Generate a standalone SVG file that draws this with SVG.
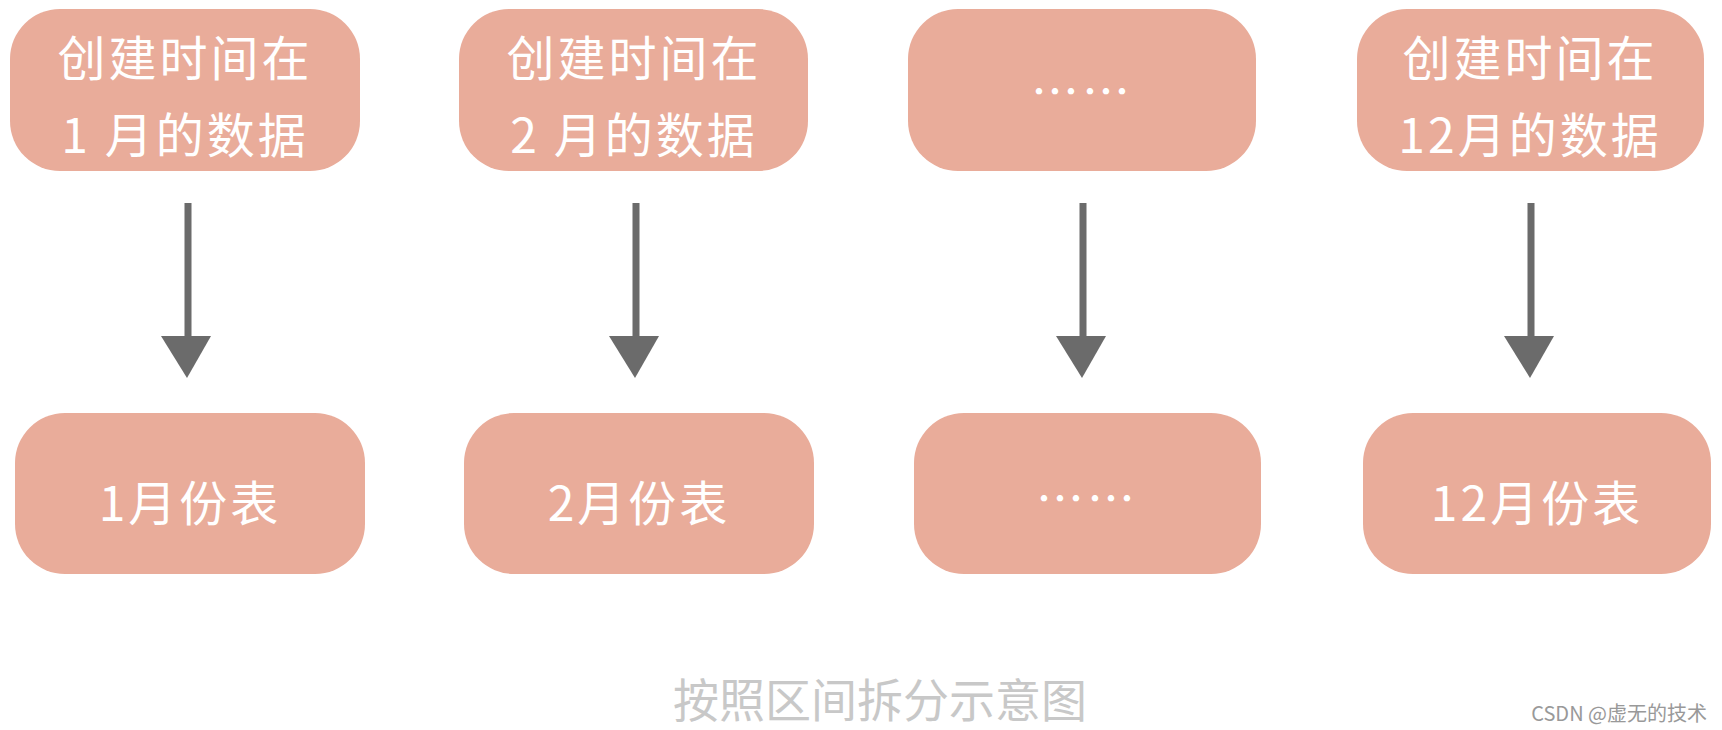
<svg xmlns="http://www.w3.org/2000/svg" width="1722" height="730" viewBox="0 0 1722 730">
<style>
.b{fill:#e9ac9a}
.t{font-family:"Noto Sans CJK SC",sans-serif;font-size:48px;fill:#fff;text-anchor:middle;dominant-baseline:central;letter-spacing:3px}
.l{stroke:#6b6b6b;stroke-width:7;fill:none}
.h{fill:#6b6b6b}
</style>
<rect width="1722" height="730" fill="#fff"/>
<g id="top1"><rect class="b" x="10" y="9" width="350" height="162" rx="50"/><text class="t" x="185" y="55">创建时间在</text><text class="t" x="185" y="132">1 月的数据</text></g>
<g id="top2"><rect class="b" x="459" y="9" width="349" height="162" rx="50"/><text class="t" x="634" y="55">创建时间在</text><text class="t" x="634" y="132">2 月的数据</text></g>
<g id="top3"><rect class="b" x="908" y="9" width="348" height="162" rx="50"/><text class="t" x="1082" y="88">……</text></g>
<g id="top4"><rect class="b" x="1357" y="9" width="347" height="162" rx="50"/><text class="t" x="1530" y="55">创建时间在</text><text class="t" x="1530" y="132">12月的数据</text></g>
<g id="bot1"><rect class="b" x="15" y="413" width="350" height="161" rx="50"/><text class="t" x="190" y="500">1月份表</text></g>
<g id="bot2"><rect class="b" x="464" y="413" width="350" height="161" rx="50"/><text class="t" x="639" y="500">2月份表</text></g>
<g id="bot3"><rect class="b" x="914" y="413" width="347" height="161" rx="50"/><text class="t" x="1087" y="495">……</text></g>
<g id="bot4"><rect class="b" x="1363" y="413" width="348" height="161" rx="50"/><text class="t" x="1537" y="500">12月份表</text></g>
<g id="connectors">
<path class="l" d="M188 203V338"/><path class="h" d="M161 336H211L187 378Z"/>
<path class="l" d="M636 203V338"/><path class="h" d="M609 336H659L635 378Z"/>
<path class="l" d="M1083 203V338"/><path class="h" d="M1056 336H1106L1082 378Z"/>
<path class="l" d="M1531 203V338"/><path class="h" d="M1504 336H1554L1530 378Z"/>
</g>
<text x="880" y="697" font-family="Noto Sans CJK SC,sans-serif" font-size="46" fill="#c8c8c8" text-anchor="middle" dominant-baseline="central">按照区间拆分示意图</text>
<text x="1707" y="712" font-family="Noto Sans CJK SC,sans-serif" font-size="20" fill="#999" text-anchor="end" dominant-baseline="central">CSDN @虚无的技术</text>
</svg>
